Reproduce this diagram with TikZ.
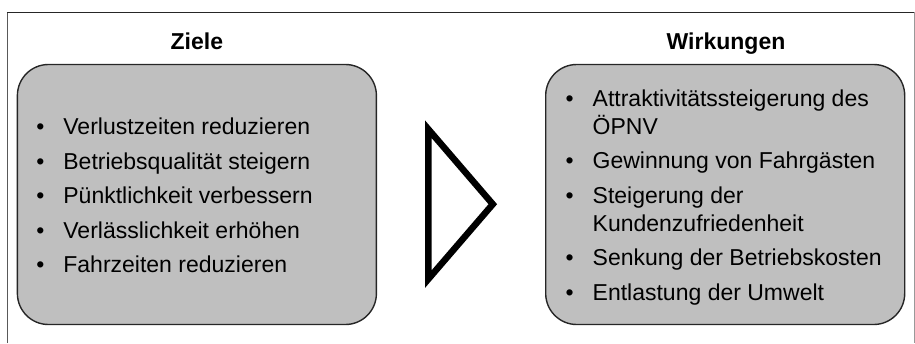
\documentclass[tikz,border=0pt]{standalone}
\usepackage{fontspec}
\setmainfont{Liberation Sans}

\begin{document}
\begin{tikzpicture}[x=1pt, y=-1pt,
    every node/.style={font=\fontsize{23}{28}\selectfont, inner sep=0pt},
    panel/.style={draw=black!85, line width=1.4pt, fill=black!25,
      rounded corners=31pt, minimum width=359pt, minimum height=260pt},
    titel/.style={font=\fontsize{23}{28}\selectfont\bfseries, anchor=base},
    liste/.style={anchor=west}]
  \useasboundingbox (0,0) rectangle (915,343);

  % frame, open at the bottom
  \draw[black!65, line width=1.4pt] (7.5,343) -- (7.5,12.3);
  \draw[black!85, line width=1.2pt] (6.8,12.3) -- (914,12.3);
  \draw[black!40, line width=0.9pt] (914,12.3) -- (914,343);

  \node[panel] (ziele) at (196.9,194.5) {};
  \node[panel] (wirkungen) at (725.2,194.5) {};

  \node[titel] (ziele titel) at (196.9,49) {Ziele};
  \node[titel] (wirkungen titel) at (726,49) {Wirkungen};

  \node[liste] (ziele liste) at ([shift={(19.5,3.4)}]ziele.west) {%
    \begin{tabular}{@{}p{27pt}@{}l@{}}
      • & Verlustzeiten reduzieren\\[6.5pt]
      • & Betriebsqualität steigern\\[6.5pt]
      • & Pünktlichkeit verbessern\\[6.5pt]
      • & Verlässlichkeit erhöhen\\[6.5pt]
      • & Fahrzeiten reduzieren
    \end{tabular}};

  \node[liste] (wirkungen liste) at ([shift={(20.5,3)}]wirkungen.west) {%
    \begin{tabular}{@{}p{27pt}@{}l@{}}
      • & Attraktivitätssteigerung des\\
        & ÖPNV\\[6.5pt]
      • & Gewinnung von Fahrgästen\\[6.5pt]
      • & Steigerung der\\
        & Kundenzufriedenheit\\[6.5pt]
      • & Senkung der Betriebskosten\\[6.5pt]
      • & Entlastung der Umwelt
    \end{tabular}};

  % triangle between the panels
  \coordinate (spitze oben) at (428.3,129.2);
  \coordinate (spitze) at (492.8,204.2);
  \coordinate (spitze unten) at (428.3,279.1);
  \draw[line width=6.5pt] (spitze oben) -- (spitze) -- (spitze unten) -- cycle;
\end{tikzpicture}
\end{document}
